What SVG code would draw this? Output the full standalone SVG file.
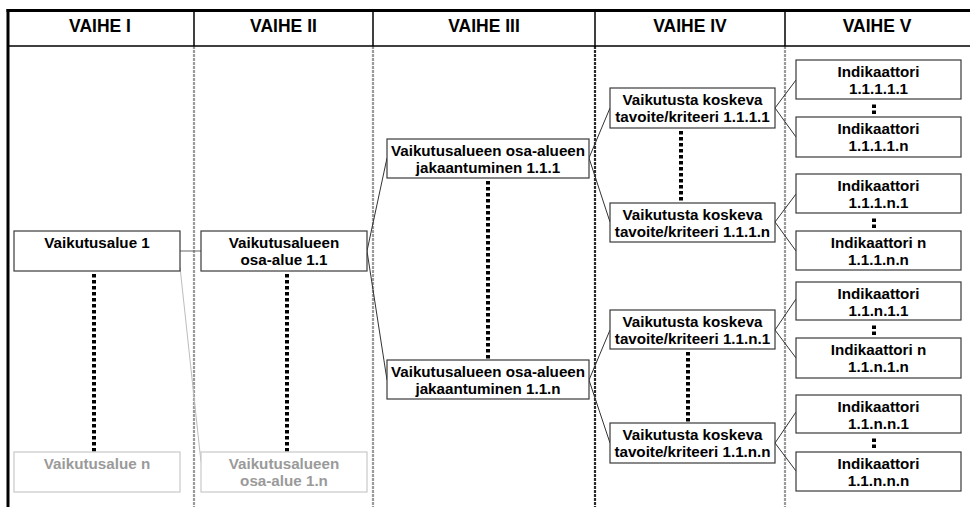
<svg xmlns="http://www.w3.org/2000/svg" width="970" height="507" viewBox="0 0 970 507">
  <style>
    .hdr { font-family: "Liberation Sans", Arial, sans-serif; font-weight: bold; font-size: 17.5px; fill: #000; text-anchor: middle; }
    .lbl { font-family: "Liberation Sans", Arial, sans-serif; font-weight: bold; font-size: 15.2px; fill: #000; text-anchor: middle; }
    .lbl.dim { fill: #9a9a9a; }
    .box { fill: #fff; stroke: #3a3a3a; stroke-width: 1.2; }
    .box.dim { stroke: #c8c8c8; }
    .frame { stroke: #000; fill: none; }
    .col { stroke: #9a9a9a; stroke-width: 2.2; stroke-dasharray: 3 1; fill: none; }
    .col.dark { stroke: #2a2a2a; }
    .link { stroke: #333; stroke-width: 1; fill: none; }
    .link.soft { stroke: #666; }
    .link.faint { stroke: #bdbdbd; }
    .dots { stroke: #000; stroke-width: 4; stroke-dasharray: 3.5 2.5; fill: none; }
  </style>

  <!-- table frame -->
  <g id="table">
    <line class="col" x1="194" y1="46" x2="194" y2="507"/>
    <line class="col" x1="373" y1="46" x2="373" y2="507"/>
    <line class="col dark" x1="595" y1="46" x2="595" y2="507"/>
    <line class="col" x1="785" y1="46" x2="785" y2="507"/>
    <line class="frame" x1="194" y1="10" x2="194" y2="46" stroke-width="1.5"/>
    <line class="frame" x1="373" y1="10" x2="373" y2="46" stroke-width="1.5"/>
    <line class="frame" x1="595" y1="10" x2="595" y2="46" stroke-width="1.5"/>
    <line class="frame" x1="785" y1="10" x2="785" y2="46" stroke-width="1.5"/>
    <line class="frame" x1="7" y1="46" x2="970" y2="46" stroke-width="1.5"/>
    <line class="frame" x1="6.5" y1="10.5" x2="970" y2="10.5" stroke-width="3"/>
    <line class="frame" x1="8" y1="9" x2="8" y2="507" stroke-width="3"/>
    <text class="hdr" x="100" y="32">VAIHE I</text>
    <text class="hdr" x="283.5" y="32">VAIHE II</text>
    <text class="hdr" x="484" y="32">VAIHE III</text>
    <text class="hdr" x="690" y="32">VAIHE IV</text>
    <text class="hdr" x="877" y="32">VAIHE V</text>
  </g>

  <!-- connectors -->
  <g id="connectors">
    <line class="link soft" x1="180" y1="251" x2="201" y2="251"/>
    <line class="link faint" x1="180" y1="267" x2="201" y2="462"/>
    <line class="link" x1="367" y1="251" x2="387" y2="158"/>
    <line class="link" x1="367" y1="251" x2="387" y2="380"/>
    <line class="link" x1="589" y1="158" x2="610" y2="108"/>
    <line class="link" x1="589" y1="158" x2="610" y2="222"/>
    <line class="link" x1="589" y1="380" x2="610" y2="330"/>
    <line class="link" x1="589" y1="380" x2="610" y2="443"/>
    <line class="link" x1="775" y1="108" x2="796" y2="80"/>
    <line class="link" x1="775" y1="108" x2="796" y2="137"/>
    <line class="link" x1="775" y1="222" x2="796" y2="194"/>
    <line class="link" x1="775" y1="222" x2="796" y2="251"/>
    <line class="link" x1="775" y1="330" x2="796" y2="299"/>
    <line class="link" x1="775" y1="330" x2="796" y2="358"/>
    <line class="link" x1="775" y1="443" x2="796" y2="412"/>
    <line class="link" x1="775" y1="443" x2="796" y2="471"/>
    <!-- continuation dots -->
    <line class="dots" x1="94" y1="274" x2="94" y2="452"/>
    <line class="dots" x1="287" y1="274" x2="287" y2="452"/>
    <line class="dots" x1="488" y1="181" x2="488" y2="360"/>
    <line class="dots" x1="681" y1="131" x2="681" y2="203"/>
    <line class="dots" x1="688" y1="352" x2="688" y2="423"/>
    <line class="dots" x1="874" y1="104.5" x2="874" y2="114"/>
    <line class="dots" x1="874" y1="218.5" x2="874" y2="228"/>
    <line class="dots" x1="874" y1="325.5" x2="874" y2="335"/>
    <line class="dots" x1="874" y1="438.5" x2="874" y2="448"/>
  </g>

  <!-- phase I -->
  <g id="alue1">
    <rect class="box" x="14" y="231" width="166" height="40"/>
    <text class="lbl" x="97" y="247.5">Vaikutusalue 1</text>
  </g>
  <g id="alueN">
    <rect class="box dim" x="14" y="452" width="166" height="40"/>
    <text class="lbl dim" x="97" y="468.5">Vaikutusalue n</text>
  </g>

  <!-- phase II -->
  <g id="osa11">
    <rect class="box" x="201" y="231" width="166" height="40"/>
    <text class="lbl" x="284" y="247.5">Vaikutusalueen</text>
    <text class="lbl" x="284" y="264.5">osa-alue 1.1</text>
  </g>
  <g id="osa1n">
    <rect class="box dim" x="201" y="452" width="166" height="40"/>
    <text class="lbl dim" x="284" y="468.5">Vaikutusalueen</text>
    <text class="lbl dim" x="284" y="485.5">osa-alue 1.n</text>
  </g>

  <!-- phase III -->
  <g id="jak111">
    <rect class="box" x="387" y="139" width="202" height="39"/>
    <text class="lbl" x="488" y="155.5">Vaikutusalueen osa-alueen</text>
    <text class="lbl" x="488" y="172.5">jakaantuminen 1.1.1</text>
  </g>
  <g id="jak11n">
    <rect class="box" x="387" y="360" width="202" height="39"/>
    <text class="lbl" x="488" y="376.5">Vaikutusalueen osa-alueen</text>
    <text class="lbl" x="488" y="393.5">jakaantuminen 1.1.n</text>
  </g>

  <!-- phase IV -->
  <g id="tav1111">
    <rect class="box" x="610" y="88" width="165" height="40"/>
    <text class="lbl" x="692.5" y="104.5">Vaikutusta koskeva</text>
    <text class="lbl" x="692.5" y="121.5">tavoite/kriteeri 1.1.1.1</text>
  </g>
  <g id="tav111n">
    <rect class="box" x="610" y="203" width="165" height="39"/>
    <text class="lbl" x="692.5" y="219.5">Vaikutusta koskeva</text>
    <text class="lbl" x="692.5" y="236.5">tavoite/kriteeri 1.1.1.n</text>
  </g>
  <g id="tav11n1">
    <rect class="box" x="610" y="310" width="165" height="39"/>
    <text class="lbl" x="692.5" y="326.5">Vaikutusta koskeva</text>
    <text class="lbl" x="692.5" y="343.5">tavoite/kriteeri 1.1.n.1</text>
  </g>
  <g id="tav11nn">
    <rect class="box" x="610" y="423" width="165" height="40"/>
    <text class="lbl" x="692.5" y="439.5">Vaikutusta koskeva</text>
    <text class="lbl" x="692.5" y="456.5">tavoite/kriteeri 1.1.n.n</text>
  </g>

  <!-- phase V -->
  <g id="ind11111">
    <rect class="box" x="796" y="60" width="165" height="39"/>
    <text class="lbl" x="878.5" y="76.5">Indikaattori</text>
    <text class="lbl" x="878.5" y="94">1.1.1.1.1</text>
  </g>
  <g id="ind1111n">
    <rect class="box" x="796" y="117" width="165" height="40"/>
    <text class="lbl" x="878.5" y="133.5">Indikaattori</text>
    <text class="lbl" x="878.5" y="151">1.1.1.1.n</text>
  </g>
  <g id="ind111n1">
    <rect class="box" x="796" y="174" width="165" height="39"/>
    <text class="lbl" x="878.5" y="190.5">Indikaattori</text>
    <text class="lbl" x="878.5" y="208">1.1.1.n.1</text>
  </g>
  <g id="ind111nn">
    <rect class="box" x="796" y="231" width="165" height="39"/>
    <text class="lbl" x="878.5" y="247.5">Indikaattori n</text>
    <text class="lbl" x="878.5" y="265">1.1.1.n.n</text>
  </g>
  <g id="ind11n11">
    <rect class="box" x="796" y="282" width="165" height="38"/>
    <text class="lbl" x="878.5" y="298.5">Indikaattori</text>
    <text class="lbl" x="878.5" y="316">1.1.n.1.1</text>
  </g>
  <g id="ind11n1n">
    <rect class="box" x="796" y="338" width="165" height="40"/>
    <text class="lbl" x="878.5" y="354.5">Indikaattori n</text>
    <text class="lbl" x="878.5" y="372">1.1.n.1.n</text>
  </g>
  <g id="ind11nn1">
    <rect class="box" x="796" y="395" width="165" height="38"/>
    <text class="lbl" x="878.5" y="411.5">Indikaattori</text>
    <text class="lbl" x="878.5" y="429">1.1.n.n.1</text>
  </g>
  <g id="ind11nnn">
    <rect class="box" x="796" y="452" width="165" height="39"/>
    <text class="lbl" x="878.5" y="468.5">Indikaattori</text>
    <text class="lbl" x="878.5" y="486">1.1.n.n.n</text>
  </g>
</svg>
